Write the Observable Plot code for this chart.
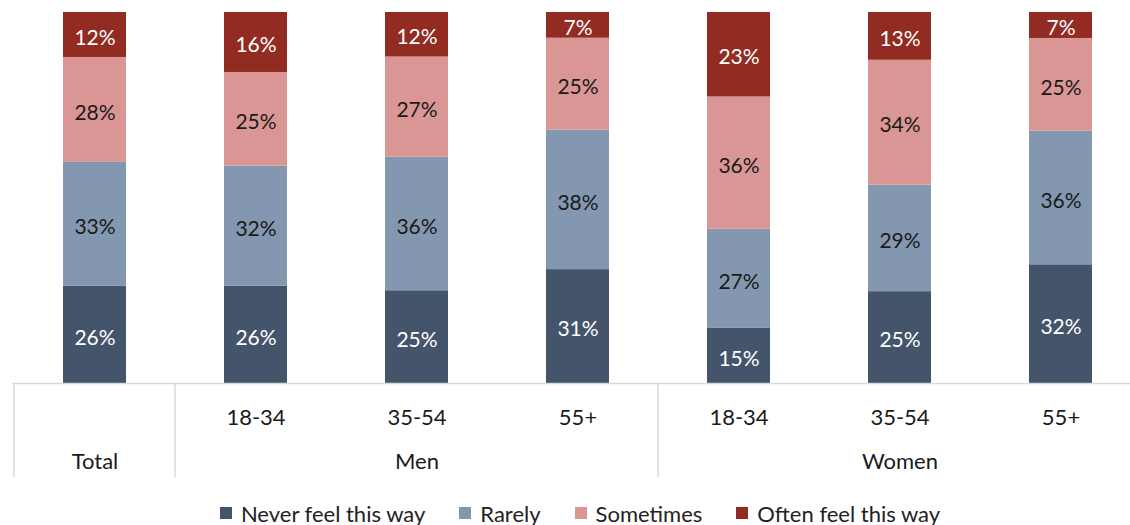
<!DOCTYPE html>
<html>
<head>
<meta charset="utf-8">
<script src="https://cdn.jsdelivr.net/npm/d3@7"></script>
<script src="https://cdn.jsdelivr.net/npm/@observablehq/plot@0.6"></script>
<style>
  html, body { margin: 0; padding: 0; background: #fff; }
  body { width: 1130px; height: 525px; overflow: hidden; font-family: Lato, "Open Sans", sans-serif; }
  #legend { display: flex; justify-content: center; align-items: center; height: 40px; margin-top: 8px; font-size: 22px; color: #222; padding-left: 30px; }
  #legend .item { display: flex; align-items: center; margin: 0 17px; }
  #legend .sw { width: 12px; height: 12px; margin-right: 9px; }
</style>
</head>
<body>
<div id="chart"></div>
<div id="legend"></div>
<script>
const bars = ["Total", "Men 18-34", "Men 35-54", "Men 55+", "Women 18-34", "Women 35-54", "Women 55+"];
const ageLabels = ["", "18-34", "35-54", "55+", "18-34", "35-54", "55+"];
const groups = ["Total", "Men", "Men", "Men", "Women", "Women", "Women"];
const series = ["Never feel this way", "Rarely", "Sometimes", "Often feel this way"];
const colors = ["#44546A", "#8497B0", "#DA9694", "#922B21"];
const textColors = ["#ffffff", "#1a1a1a", "#1a1a1a", "#ffffff"];
const never = [26, 26, 25, 31, 15, 25, 32];
const rarely = [33, 32, 36, 38, 27, 29, 36];
const sometimes = [28, 25, 27, 25, 36, 34, 25];
const often = [12, 16, 12, 7, 23, 13, 7];

const values = [never, rarely, sometimes, often];
const data = [];
series.forEach((s, si) => bars.forEach((b, bi) => data.push({bar: b, series: s, value: values[si][bi]})));

const groupNames = ["Total", "Men", "Women"];
const groupData = groupNames.map(g => {
  const idx = groups.map((x, i) => x === g ? i : -1).filter(i => i >= 0);
  return {group: g, first: bars[idx[0]], last: bars[idx[idx.length - 1]], mid: bars[idx[Math.floor(idx.length / 2)]]};
});

const W = 1130, H = 485;
const plot = Plot.plot({
  width: W,
  height: H,
  marginTop: 12,
  marginBottom: 102,
  marginLeft: 12,
  marginRight: 0,
  style: {fontFamily: "Lato, 'Open Sans', sans-serif", fontSize: "21px", background: "#fff"},
  x: {domain: bars, range: [12, 1142.5], paddingInner: 0.607, paddingOuter: 0.3035, axis: null},
  y: {axis: null},
  color: {domain: series, range: colors},
  marks: [
    Plot.barY(data, Plot.stackY({x: "bar", y: "value", fill: "series", order: series, offset: "normalize"})),
    Plot.text(data, Plot.stackY({
      x: "bar", y: "value", z: "series", order: series, offset: "normalize",
      text: d => d.value + "%",
      fill: d => textColors[series.indexOf(d.series)],
      fontSize: 21, dy: 3
    })),
    Plot.ruleY([0], {stroke: "#d9d9d9", strokeWidth: 1.5}),
    Plot.text(bars, {x: d => d, text: (d, i) => ageLabels[i], frameAnchor: "bottom", dy: 41, fill: "#1a1a1a", fontSize: 22}),
    Plot.text(groupData, {x: "mid", text: "group", frameAnchor: "bottom", dy: 85, fill: "#1a1a1a", fontSize: 22})
  ]
});
document.getElementById("chart").appendChild(plot);

// group divider lines below the axis, positioned with the plot's x scale
const xs = plot.scale("x");
const half = xs.step / 2;
const svg = d3.select(plot);
const baseY = 383;
const dividerXs = [xs.apply(bars[0]) + xs.bandwidth / 2 - half];
groupData.forEach(g => dividerXs.push(xs.apply(g.last) + xs.bandwidth / 2 + half));
svg.append("g").selectAll("line").data(dividerXs).join("line")
  .attr("x1", d => d).attr("x2", d => d)
  .attr("y1", baseY).attr("y2", baseY + 94)
  .attr("stroke", "#d9d9d9").attr("stroke-width", 1.5);

// legend
const legend = d3.select("#legend");
series.forEach((s, i) => {
  const it = legend.append("div").attr("class", "item");
  it.append("div").attr("class", "sw").style("background", colors[i]);
  it.append("span").text(s);
});
</script>
</body>
</html>
